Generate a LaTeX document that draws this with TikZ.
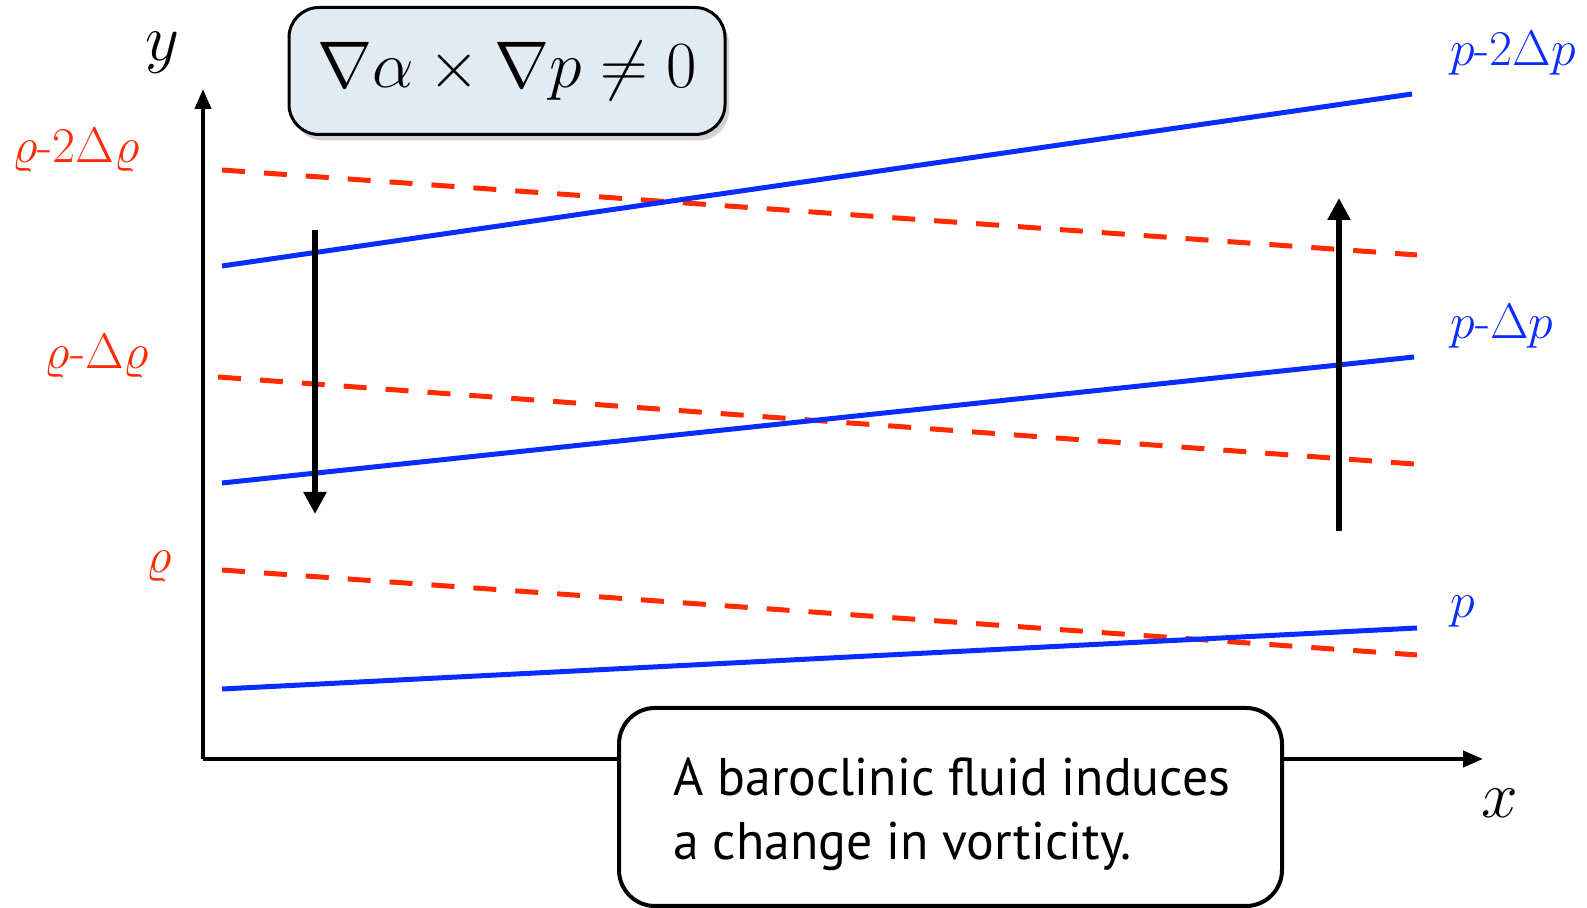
\RequirePackage{fix-cm}
\documentclass[tikz,border=0pt]{standalone}
\usepackage{fontspec}
\usepackage{amsmath}
\newfontfamily\boxfont[FakeStretch=0.977]{PT Sans}
\usetikzlibrary{arrows.meta,shadows}
\definecolor{isoblue}{RGB}{10,45,255}
\definecolor{isored}{RGB}{255,42,0}
\definecolor{boxblue}{RGB}{226,234,244}
\tikzset{
  axis/.style={line width=2pt,-{Triangle[length=10pt,width=8pt]}},
  bigarrow/.style={line width=3pt,-{Triangle[length=11pt,width=11pt]}},
  isobar/.style={line width=2.5pt,isoblue},
  isochor/.style={line width=2.5pt,isored,dash pattern=on 11.5pt off 9.5pt},
  redlab/.style={text=isored,font=\fontsize{25}{28}\selectfont},
  bluelab/.style={text=isoblue,font=\fontsize{25}{28}\selectfont},
  axlab/.style={font=\fontsize{33}{36}\selectfont},
  notetext/.style={anchor=base west,inner sep=0pt,font=\boxfont\fontsize{26.5}{32}\selectfont},
}
\begin{document}
\begin{tikzpicture}[x=0.5pt,y=-0.5pt]
\useasboundingbox (0,0) rectangle (1587,908);
% axes
\coordinate (O) at (203,759);
\coordinate (Ytip) at (203,89);
\coordinate (Xtip) at (1483,759);
\draw[axis] (O) -- (Ytip);
\draw[axis] (O) -- (Xtip);
\node[axlab] (ylab) at (162,53) {$y$};
\node[axlab] (xlab) at (1500,803) {$x$};
% isochors (dashed red)
\coordinate (r1a) at (222,170); \coordinate (r1b) at (1417,255);
\coordinate (r2a) at (218,377); \coordinate (r2b) at (1414,464);
\coordinate (r3a) at (222,570); \coordinate (r3b) at (1417,655);
\draw[isochor] (r1a) -- (r1b);
\draw[isochor] (r2a) -- (r2b);
\draw[isochor] (r3a) -- (r3b);
% isobars (blue)
\coordinate (b1a) at (222,266); \coordinate (b1b) at (1412,94);
\coordinate (b2a) at (222,483); \coordinate (b2b) at (1414,357);
\coordinate (b3a) at (222,689); \coordinate (b3b) at (1417,628);
\draw[isobar] (b1a) -- (b1b);
\draw[isobar] (b2a) -- (b2b);
\draw[isobar] (b3a) -- (b3b);
% arrows
\coordinate (d1) at (315,230); \coordinate (d2) at (315,514);
\coordinate (u1) at (1339,531); \coordinate (u2) at (1339,198);
\draw[bigarrow] (d1) -- (d2);
\draw[bigarrow] (u1) -- (u2);
% labels
\node[redlab] (rl1) at (76,150) {$\varrho$-2$\Delta\varrho$};
\node[redlab] (rl2) at (97,356) {$\varrho$-$\Delta\varrho$};
\node[redlab] (rl3) at (159,567) {$\varrho$};
\node[bluelab] (bl1) at (1513,53) {$p$-2$\Delta p$};
\node[bluelab] (bl2) at (1502,326) {$p$-$\Delta p$};
\node[bluelab] (bl3) at (1463,612) {$p$};
% formula box
\node[draw=black,line width=1.5pt,fill=boxblue,rounded corners=15pt,
      minimum width=218pt,minimum height=63.5pt,
      drop shadow={opacity=0.35,shadow xshift=2pt,shadow yshift=-3pt},
      font=\fontsize{33}{36}\selectfont] (formula) at (507,71)
      {$\nabla\alpha\times\nabla p\neq 0$};
% text box
\node[draw=black,line width=2pt,fill=white,rounded corners=18pt,
      minimum width=331.5pt,minimum height=99pt] (note) at (950.5,807) {};
\node[notetext] (line1) at (673,796) {A baroclinic fluid induces};
\node[notetext] (line2) at (673,860) {a change in vorticity.};
\end{tikzpicture}
\end{document}
